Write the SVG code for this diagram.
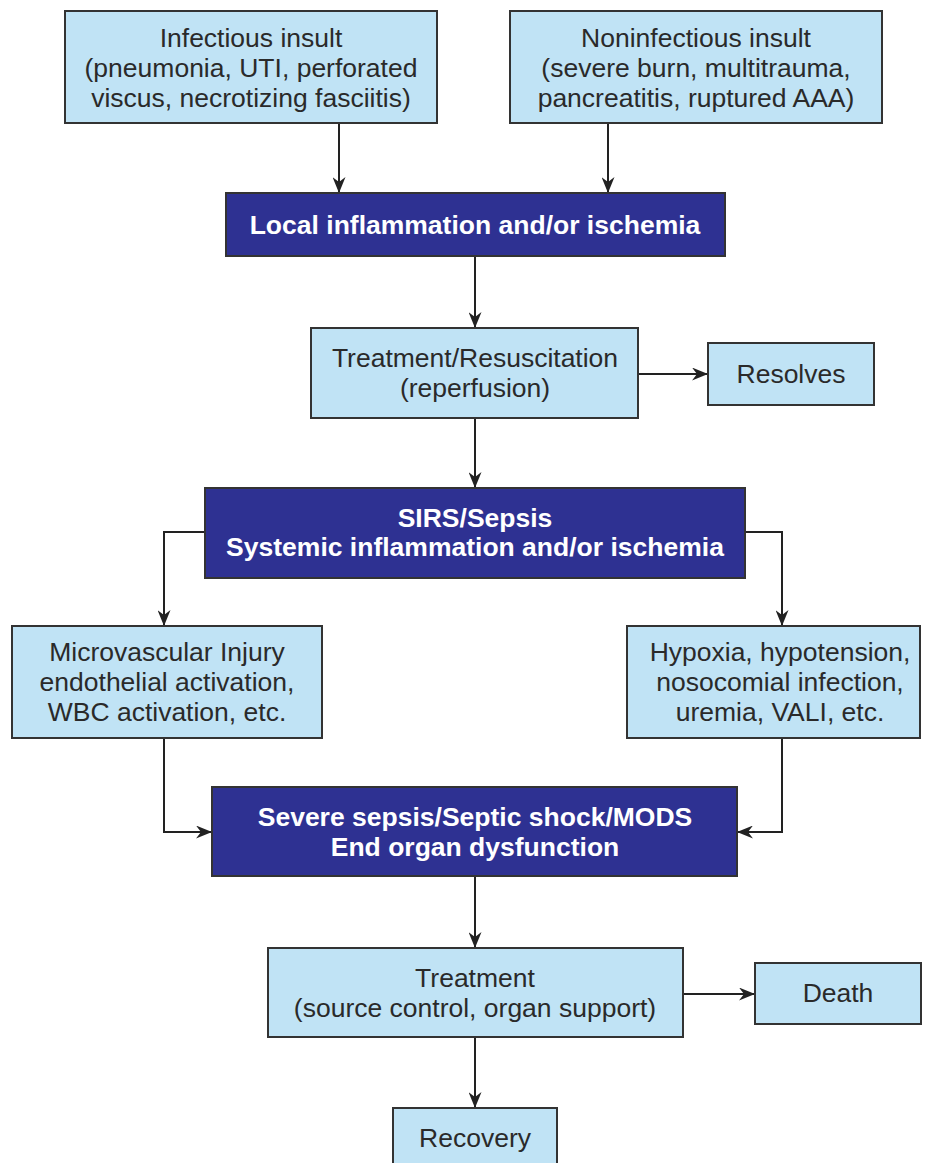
<svg xmlns="http://www.w3.org/2000/svg" width="925" height="1163" viewBox="0 0 925 1163">
<defs>
<style>
.lb{fill:#c0e3f5;stroke:#333;stroke-width:2}
.db{fill:#2e3192;stroke:#333;stroke-width:2}
.t{font-family:"Liberation Sans",Arial,sans-serif;font-size:26.5px;fill:#2a2a2a;text-anchor:middle}
.w{font-family:"Liberation Sans",Arial,sans-serif;font-size:26.5px;font-weight:bold;fill:#ffffff;text-anchor:middle}
.c{fill:none;stroke:#222;stroke-width:2}
</style>
<marker id="ah" markerUnits="userSpaceOnUse" viewBox="0 0 16 13" markerWidth="16" markerHeight="13" refX="16" refY="6.5" orient="auto">
<path d="M0,0 L16,6.5 L0,13 L5,6.5 z" fill="#222"/>
</marker>
</defs>
<rect width="925" height="1163" fill="#ffffff"/>
<g id="connectors">
<path class="c" d="M339,123 V193" marker-end="url(#ah)"/>
<path class="c" d="M608,123 V193" marker-end="url(#ah)"/>
<path class="c" d="M475,256 V328" marker-end="url(#ah)"/>
<path class="c" d="M638,374 H708" marker-end="url(#ah)"/>
<path class="c" d="M475,418 V488" marker-end="url(#ah)"/>
<path class="c" d="M205,532 H164 V626" marker-end="url(#ah)"/>
<path class="c" d="M745,532 H782 V626" marker-end="url(#ah)"/>
<path class="c" d="M164,738 V832 H212" marker-end="url(#ah)"/>
<path class="c" d="M782,738 V832 H737" marker-end="url(#ah)"/>
<path class="c" d="M475,876 V948" marker-end="url(#ah)"/>
<path class="c" d="M683,994 H755" marker-end="url(#ah)"/>
<path class="c" d="M475,1037 V1108" marker-end="url(#ah)"/>
</g>
<g id="infectious">
<rect class="lb" x="65" y="11" width="372" height="112"/>
<text class="t" x="251" y="47">Infectious insult</text>
<text class="t" x="251" y="77">(pneumonia, UTI, perforated</text>
<text class="t" x="251" y="107">viscus, necrotizing fasciitis)</text>
</g>
<g id="noninfectious">
<rect class="lb" x="510" y="11" width="372" height="112"/>
<text class="t" x="696" y="47">Noninfectious insult</text>
<text class="t" x="696" y="77">(severe burn, multitrauma,</text>
<text class="t" x="696" y="107">pancreatitis, ruptured AAA)</text>
</g>
<g id="local">
<rect class="db" x="226" y="193" width="499" height="63"/>
<text class="w" x="475" y="234">Local inflammation and/or ischemia</text>
</g>
<g id="treatment1">
<rect class="lb" x="311" y="328" width="327" height="90"/>
<text class="t" x="475" y="367">Treatment/Resuscitation</text>
<text class="t" x="475" y="397">(reperfusion)</text>
</g>
<g id="resolves">
<rect class="lb" x="708" y="343" width="166" height="62"/>
<text class="t" x="791" y="383">Resolves</text>
</g>
<g id="sirs">
<rect class="db" x="205" y="488" width="540" height="90"/>
<text class="w" x="475" y="527">SIRS/Sepsis</text>
<text class="w" x="475" y="556">Systemic inflammation and/or ischemia</text>
</g>
<g id="microvascular">
<rect class="lb" x="12" y="626" width="310" height="112"/>
<text class="t" x="167" y="661">Microvascular Injury</text>
<text class="t" x="167" y="691">endothelial activation,</text>
<text class="t" x="167" y="721">WBC activation, etc.</text>
</g>
<g id="hypoxia">
<rect class="lb" x="627" y="626" width="293" height="112"/>
<text class="t" x="780" y="661">Hypoxia, hypotension,</text>
<text class="t" x="780" y="691">nosocomial infection,</text>
<text class="t" x="780" y="721">uremia, VALI, etc.</text>
</g>
<g id="severe">
<rect class="db" x="212" y="787" width="525" height="89"/>
<text class="w" x="475" y="826">Severe sepsis/Septic shock/MODS</text>
<text class="w" x="475" y="856">End organ dysfunction</text>
</g>
<g id="treatment2">
<rect class="lb" x="268" y="948" width="415" height="89"/>
<text class="t" x="475" y="987">Treatment</text>
<text class="t" x="475" y="1017">(source control, organ support)</text>
</g>
<g id="death">
<rect class="lb" x="755" y="963" width="166" height="61"/>
<text class="t" x="838" y="1002">Death</text>
</g>
<g id="recovery">
<rect class="lb" x="393" y="1108" width="164" height="70"/>
<text class="t" x="475" y="1147">Recovery</text>
</g>
</svg>
